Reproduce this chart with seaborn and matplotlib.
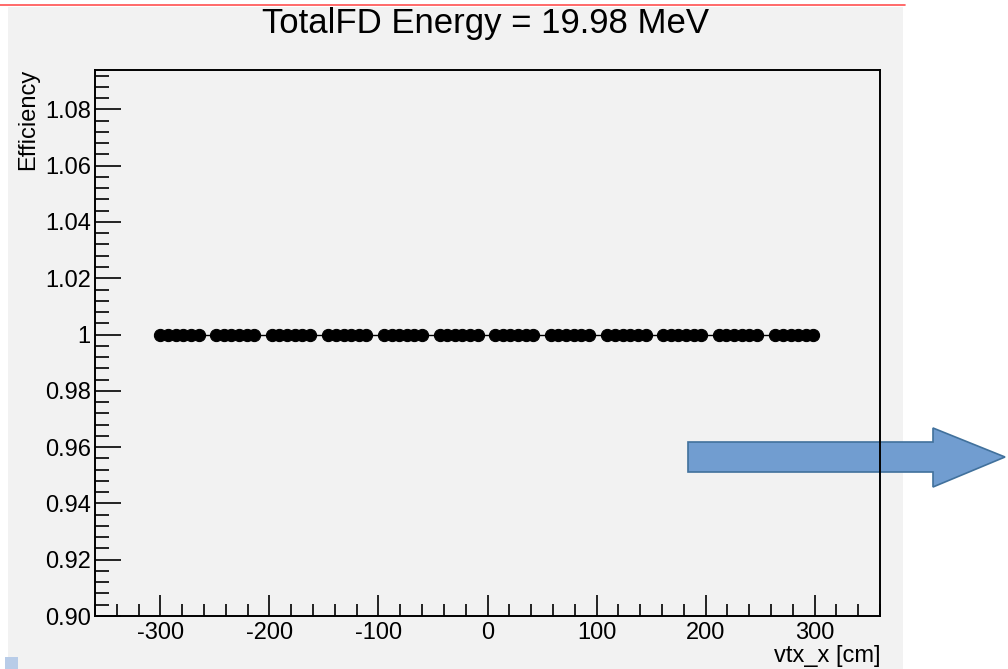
import matplotlib
matplotlib.use("Agg")
import matplotlib.pyplot as plt
import seaborn as sns
import pandas as pd
from matplotlib.patches import Rectangle, Polygon
from matplotlib.lines import Line2D
from matplotlib.ticker import FixedLocator, MultipleLocator

# ---------------- data ----------------
vtx_x = [
    -300, -293, -286, -279, -272, -265,
    -249, -242, -235, -228, -221, -214,
    -198, -191, -184, -177, -170, -163,
    -146, -139, -132, -125, -118, -111,
    -95, -88, -81, -74, -67, -60,
    -44, -37, -30, -23, -16, -9,
    7, 14, 21, 28, 35, 42,
    58, 65, 72, 79, 86, 93,
    110, 117, 124, 131, 138, 145,
    161, 168, 175, 182, 189, 196,
    212, 219, 226, 233, 240, 247,
    264, 271, 278, 285, 292, 299,
]
efficiency = [
    1.0, 1.0, 1.0, 1.0, 1.0, 1.0, 1.0, 1.0, 1.0, 1.0, 1.0, 1.0,
    1.0, 1.0, 1.0, 1.0, 1.0, 1.0, 1.0, 1.0, 1.0, 1.0, 1.0, 1.0,
    1.0, 1.0, 1.0, 1.0, 1.0, 1.0, 1.0, 1.0, 1.0, 1.0, 1.0, 1.0,
    1.0, 1.0, 1.0, 1.0, 1.0, 1.0, 1.0, 1.0, 1.0, 1.0, 1.0, 1.0,
    1.0, 1.0, 1.0, 1.0, 1.0, 1.0, 1.0, 1.0, 1.0, 1.0, 1.0, 1.0,
    1.0, 1.0, 1.0, 1.0, 1.0, 1.0, 1.0, 1.0, 1.0, 1.0, 1.0, 1.0,
]
x_ticks = [-300, -200, -100, 0, 100, 200, 300]
x_tick_labels = ["-300", "-200", "-100", "0", "100", "200", "300"]
y_ticks = [0.90, 0.92, 0.94, 0.96, 0.98, 1.00, 1.02, 1.04, 1.06, 1.08]
y_tick_labels = ["0.90", "0.92", "0.94", "0.96", "0.98", "1", "1.02", "1.04", "1.06", "1.08"]
title = "TotalFD Energy = 19.98 MeV"
x_label = "vtx_x [cm]"
y_label = "Efficiency"

df = pd.DataFrame({"vtx_x": vtx_x, "eff": efficiency})

# ---------------- style ----------------
sns.set_theme(style="white")
plt.rcParams["font.family"] = ["Liberation Sans", "DejaVu Sans"]

W, H = 1008, 669
fig = plt.figure(figsize=(W / 100, H / 100), dpi=100, facecolor="white")

def fx(px):
    return px / W

def fy(py):
    return 1 - py / H

# gray canvas panel
fig.patches.append(Rectangle((fx(8), 0), fx(903) - fx(8), fy(7), transform=fig.transFigure,
                             facecolor="#f2f2f2", edgecolor="none", zorder=-10))
# red line on top
fig.lines.append(Line2D([0, fx(905)], [fy(5), fy(5)], transform=fig.transFigure,
                        color="#ff5050", lw=1.2, zorder=-5))
# small blue square bottom-left
fig.patches.append(Rectangle((fx(5), 0), fx(13), fy(657), transform=fig.transFigure,
                             facecolor="#b8cce8", edgecolor="none", zorder=-5))

ax = fig.add_axes([fx(95), fy(616), fx(880) - fx(95), fy(70) - fy(616)])
ax.patch.set_visible(False)

sns.lineplot(data=df, x="vtx_x", y="eff", ax=ax, color="black", lw=1.0,
             marker="o", markersize=8.8, markeredgecolor="black", markerfacecolor="black",
             errorbar=None, sort=True)

ax.set_xlim(-360, 360)
ax.set_ylim(0.90, 1.094)

ax.xaxis.set_major_locator(FixedLocator(x_ticks))
ax.set_xticklabels(x_tick_labels)
ax.xaxis.set_minor_locator(MultipleLocator(20))
ax.yaxis.set_major_locator(FixedLocator(y_ticks))
ax.set_yticklabels(y_tick_labels)
ax.yaxis.set_minor_locator(MultipleLocator(0.004))

ax.tick_params(axis="x", which="major", direction="in", length=15, width=1.2,
               labelsize=17, pad=4, colors="black", top=False, bottom=True)
ax.tick_params(axis="x", which="minor", direction="in", length=8.5, width=1.2,
               top=False, bottom=True, colors="black")
ax.tick_params(axis="y", which="major", direction="in", length=19, width=1.2,
               labelsize=17, pad=3, colors="black", left=True, right=False)
ax.tick_params(axis="y", which="minor", direction="in", length=10, width=1.2,
               left=True, right=False, colors="black")

for s in ax.spines.values():
    s.set_color("black")
    s.set_linewidth(1.4)

ax.set_xlabel("")
ax.set_ylabel("")
fig.text(fx(880), fy(667), x_label, ha="right", va="bottom", fontsize=17, color="black")
fig.text(fx(28), fy(69), y_label, ha="center", va="top", rotation=90, fontsize=17, color="black")
fig.text(fx(486), fy(23), title, ha="center", va="center", fontsize=25, color="black")

# blue arrow (drawn beneath the frame, as in the reference)
arrow_px = [(688, 442), (933, 442), (933, 428), (1005, 457), (933, 487), (933, 472), (688, 472)]
fig.patches.append(Polygon([(fx(a), fy(b)) for a, b in arrow_px], closed=True,
                           transform=fig.transFigure, facecolor="#719dd0",
                           edgecolor="#41719c", lw=1.2, zorder=-1))

fig.savefig("out.png", dpi=100, facecolor="white")
